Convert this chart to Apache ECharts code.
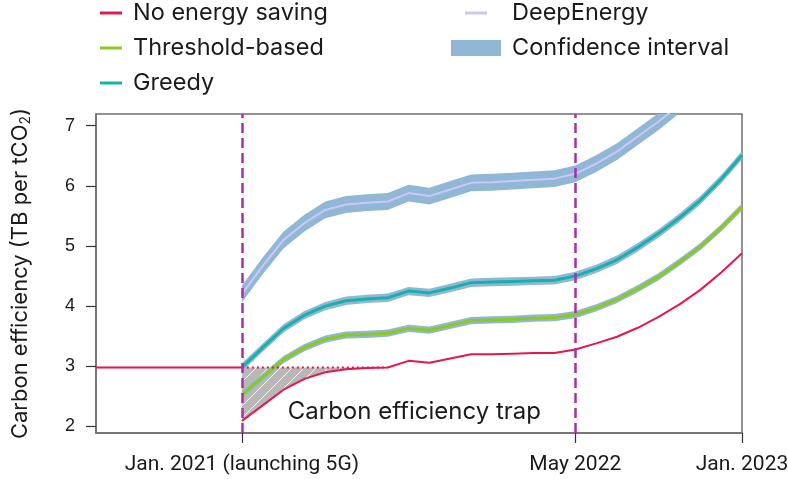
<!DOCTYPE html>
<html>
<head>
<meta charset="utf-8">
<script src="https://cdn.jsdelivr.net/npm/echarts@6/dist/echarts.min.js"></script>
<style>
  html, body { margin: 0; padding: 0; background: #fff; }
  #chart { width: 788px; height: 479px; }
</style>
</head>
<body>
<div id="chart"></div>
<script>
// months counted from Jan. 2021 (launch of 5G)
const months = [0, 1, 2, 3, 4, 5, 6, 7, 8, 9, 10, 11, 12, 13, 14, 15, 16, 17, 18, 19, 20, 21, 22, 23, 24]
const preMonths = [-7, 0]
const preValues = [2.98, 2.98]

const noSaving = [2.09, 2.35, 2.61, 2.79, 2.90, 2.95, 2.97, 2.98, 3.09, 3.06, 3.13, 3.20, 3.20, 3.21, 3.22, 3.22, 3.28, 3.38, 3.49, 3.64, 3.82, 4.03, 4.27, 4.56, 4.88]
const threshold = [2.52, 2.82, 3.11, 3.31, 3.45, 3.52, 3.53, 3.55, 3.63, 3.60, 3.68, 3.76, 3.77, 3.78, 3.80, 3.81, 3.86, 3.97, 4.11, 4.29, 4.49, 4.73, 4.99, 5.30, 5.65]
const greedy = [2.98, 3.31, 3.63, 3.85, 4.00, 4.09, 4.12, 4.14, 4.25, 4.22, 4.30, 4.39, 4.40, 4.41, 4.42, 4.43, 4.50, 4.62, 4.77, 4.98, 5.21, 5.47, 5.76, 6.11, 6.51]
const deepEnergy = [4.20, 4.67, 5.10, 5.38, 5.60, 5.69, 5.72, 5.74, 5.88, 5.83, 5.94, 6.05, 6.06, 6.08, 6.10, 6.12, 6.20, 6.37, 6.57, 6.82, 7.07, 7.35, 7.65, 7.98, 8.35]

// half width of the confidence interval
const deepEnergyCI = 0.14
const greedyCI = 0.07
const thresholdCI = 0.06

// trap: between the old level and the no-saving curve, until they meet again
const trapMonths = [0, 1, 2, 3, 4, 5, 6, 7]

const xTickMonths = [0, 16, 24]
const xTickLabels = ['Jan. 2021 (launching 5G)', 'May 2022', 'Jan. 2023']
const yTicks = [2, 3, 4, 5, 6, 7]
const eventMonths = [0, 16]

const RED = '#e5174d'
const GREEN = '#8bc91a'
const TEAL = '#17b0ad'
const LAVENDER = '#cbc8f7'
const BAND = '#91b7d7'
const PURPLE = '#a830a8'
const AXIS = '#6f6f6f'

function pairs (xs, ys) {
  return xs.map(function (x, i) { return [x, ys[i]] })
}

// grey hatch for the trap area
const hatch = document.createElement('canvas')
hatch.width = 12
hatch.height = 12
let hctx = hatch.getContext('2d')
hctx.fillStyle = '#b8b8b8'
hctx.fillRect(0, 0, 12, 12)
hctx.strokeStyle = 'rgba(255,255,255,0.85)'
hctx.lineWidth = 1
hctx.beginPath()
hctx.moveTo(0, 12); hctx.lineTo(12, 0)
hctx.moveTo(-2, 2); hctx.lineTo(2, -2)
hctx.moveTo(10, 14); hctx.lineTo(14, 10)
hctx.stroke()

function clipRect (params) {
  let cs = params.coordSys
  return {type: 'rect', shape: {x: cs.x, y: cs.y, width: cs.width, height: cs.height}}
}

// filled polygon between an upper and a lower list of [x, y]
function areaSeries (upper, lower, fill, z) {
  return {
    type: 'custom', silent: true, z: z,
    data: [upper[0]],
    renderItem: function (params, api) {
      let pts = upper.map(function (p) { return api.coord(p) })
      for (let i = lower.length - 1; i >= 0; i--) pts.push(api.coord(lower[i]))
      return {
        type: 'polygon',
        shape: {points: pts},
        style: {fill: fill, stroke: null},
        clipPath: clipRect(params)
      }
    }
  }
}

function band (vals, half) {
  return areaSeries(
    pairs(months, vals.map(function (v) { return v + half })),
    pairs(months, vals.map(function (v) { return v - half })),
    BAND, 2)
}

let chart = echarts.init(document.getElementById('chart'))

let series = [
  areaSeries(
    pairs(trapMonths, trapMonths.map(function () { return preValues[1] })),
    pairs(trapMonths, trapMonths.map(function (m) { return noSaving[m] })),
    {image: hatch, repeat: 'repeat'}, 1),
  band(deepEnergy, deepEnergyCI),
  band(greedy, greedyCI),
  band(threshold, thresholdCI)
]
series.push({
  name: 'Before', type: 'line', symbol: 'none', z: 3,
  lineStyle: {color: RED, width: 2},
  data: pairs(preMonths, preValues)
}, {
  name: 'No energy saving', type: 'line', symbol: 'none', z: 3,
  lineStyle: {color: RED, width: 2},
  data: pairs(months, noSaving)
}, {
  name: 'Threshold-based', type: 'line', symbol: 'none', z: 3,
  lineStyle: {color: GREEN, width: 3},
  data: pairs(months, threshold)
}, {
  name: 'Greedy', type: 'line', symbol: 'none', z: 3,
  lineStyle: {color: TEAL, width: 3},
  data: pairs(months, greedy)
}, {
  name: 'DeepEnergy', type: 'line', symbol: 'none', z: 3,
  lineStyle: {color: LAVENDER, width: 2},
  data: pairs(months, deepEnergy)
}, {
  name: 'Old level', type: 'line', symbol: 'none', z: 4,
  lineStyle: {color: RED, width: 2, type: [2, 3]},
  data: pairs([trapMonths[0], trapMonths[trapMonths.length - 1]], [preValues[1], preValues[1]]),
  markLine: {
    symbol: 'none', silent: true, animation: false,
    label: {show: false},
    lineStyle: {color: PURPLE, width: 2.5, type: [10, 5]},
    data: eventMonths.map(function (m) { return {xAxis: m} })
  }
}, {
  type: 'scatter', symbolSize: 0, silent: true, z: 5,
  itemStyle: {opacity: 1},
  data: [[2.2, 2.25]],
  label: {
    show: true, position: 'right', distance: 0,
    formatter: 'Carbon efficiency trap',
    fontFamily: 'Inter', fontSize: 24, color: '#1a1a1a'
  }
})

function legendLine (x, y, color, w) {
  return {type: 'line', shape: {x1: x, y1: y, x2: x + 22, y2: y}, style: {stroke: color, lineWidth: w}}
}
function legendText (x, y, text) {
  return {type: 'text', x: x, y: y, style: {text: text, fontFamily: 'Inter', fontSize: 23.5, fill: '#1a1a1a', verticalAlign: 'middle'}}
}

let option = {
  animation: false,
  grid: {
    left: 96, right: 46, top: 114, bottom: 46, outerBoundsMode: 'none',
    show: true, borderColor: AXIS, borderWidth: 1.5
  },
  xAxis: {
    type: 'value', min: -7, max: 24,
    axisLine: {show: true, onZero: false, lineStyle: {color: AXIS, width: 1.5}},
    axisTick: {show: true, customValues: xTickMonths, length: 10, lineStyle: {color: '#333', width: 1.2}},
    axisLabel: {
      customValues: xTickMonths,
      formatter: function (v) { return xTickLabels[xTickMonths.indexOf(v)] },
      fontFamily: 'Roboto', fontSize: 21, color: '#1a1a1a', margin: 21
    },
    splitLine: {show: false}
  },
  yAxis: {
    type: 'value', min: 1.89, max: 7.195,
    axisLine: {show: true, onZero: false, lineStyle: {color: AXIS, width: 1.5}},
    axisTick: {show: true, customValues: yTicks, length: 10, lineStyle: {color: '#333', width: 1.2}},
    axisLabel: {customValues: yTicks, fontFamily: 'Liberation Sans', fontSize: 18, color: '#1a1a1a', margin: 21},
    splitLine: {show: false},
    name: 'Carbon efficiency (TB per tCO{sub|2})',
    nameLocation: 'middle', nameGap: 63,
    nameTextStyle: {
      fontFamily: 'Inter', fontSize: 22, color: '#1a1a1a',
      rich: {sub: {fontFamily: 'Inter', fontSize: 14, color: '#1a1a1a', padding: [12, 0, 0, 0]}}
    }
  },
  graphic: [
    legendLine(100, 13, RED, 3), legendText(133, 13, 'No energy saving'),
    legendLine(100, 48, GREEN, 3), legendText(133, 48, 'Threshold-based'),
    legendLine(100, 83, TEAL, 3), legendText(133, 83, 'Greedy'),
    legendLine(465, 13, LAVENDER, 3), legendText(512, 13, 'DeepEnergy'),
    {type: 'rect', shape: {x: 451, y: 40, width: 50, height: 16}, style: {fill: BAND}},
    legendText(512, 48, 'Confidence interval')
  ],
  series: series
}
chart.setOption(option)
</script>
</body>
</html>
